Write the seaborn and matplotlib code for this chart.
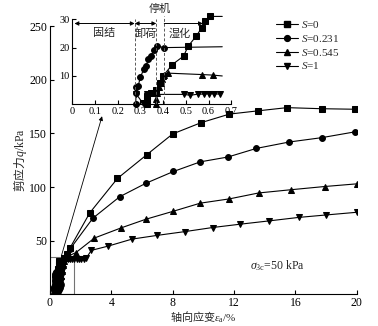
import numpy as np
import pandas as pd
import matplotlib
matplotlib.use("Agg")
import matplotlib.pyplot as plt
import matplotlib.patches as mpatches
from matplotlib.lines import Line2D
import seaborn as sns

# ---- data: axial strain (%) and deviator stress q (kPa) for each saturation level ----
s0_strain = [0.33, 0.33, 0.33, 0.345, 0.37, 0.385, 0.40, 0.44, 0.49, 0.51, 0.545, 0.57, 0.585, 0.605, 0.66,
             0.9, 1.1, 1.3, 2.6, 4.4, 6.3, 8.0, 9.85, 11.7, 13.55, 15.45, 17.7, 19.9]
s0_q = [0, 1.5, 3, 4, 5, 7.5, 10, 14, 17, 20.5, 24, 27, 29.5, 31, 31,
        34, 38, 43, 76, 108, 130, 149.5, 160, 168, 171, 174, 173, 172.5]

s1_strain = [0.28, 0.28, 0.28, 0.29, 0.30, 0.315, 0.325, 0.335, 0.345, 0.36, 0.375, 0.405, 0.66,
             0.75, 0.8, 0.85, 0.95, 1.1, 1.3, 2.8, 4.55, 6.25, 8.05, 9.8, 11.6, 13.45, 15.6, 17.7, 19.9]
s1_q = [0, 4, 6, 6.5, 9.5, 12.5, 13.5, 16, 17, 19, 20.5, 20, 20.3,
        22, 26, 30, 33, 37, 42, 71, 91, 103.5, 114.5, 123.5, 128, 136, 142, 146, 151.5]

s2_strain = [0.37, 0.37, 0.375, 0.38, 0.39, 0.395, 0.405, 0.42, 0.57, 0.62, 0.66,
             0.7, 0.75, 0.8, 0.85, 0.9, 1.05, 1.25, 1.7, 2.9, 4.65, 6.25, 8.05, 9.8, 11.7, 13.6, 15.7, 17.9, 20.0]
s2_q = [0, 2, 4, 6, 7.5, 9, 10.5, 11, 10.5, 10.3, 10,
        12, 17, 22, 27, 31, 34, 36, 39, 52.5, 62, 70, 77.5, 85, 89, 94.5, 97.5, 100.5, 103]

s3_strain = [0.28, 0.31, 0.33, 0.33, 0.37, 0.49, 0.52, 0.555, 0.58, 0.60, 0.625, 0.65,
             0.7, 0.75, 0.8, 0.85, 0.9, 1.0, 1.15, 1.3, 1.45, 1.6, 1.75, 1.9, 2.05, 2.2, 2.35,
             2.7, 3.8, 5.35, 7.0, 8.8, 10.6, 12.4, 14.3, 16.2, 18.0, 20.0]
s3_q = [3.8, 0.5, 0.5, 3.5, 3.5, 3.5, 3.2, 3.6, 3.6, 3.7, 3.7, 3.6,
        6, 12, 18, 24, 29, 32, 33, 33, 32.5, 32.5, 33, 32.5, 33, 33, 33.5,
        41, 45, 51.5, 55, 58.5, 62.3, 65.4, 68.5, 71.7, 74, 76.5]

series_names = ["0", "0.231", "0.545", "1"]
series_labels = ["$S$=0", "$S$=0.231", "$S$=0.545", "$S$=1"]
marker_shapes = ["s", "o", "^", "v"]

x_ticks = [0, 4, 8, 12, 16, 20]
y_ticks = [50, 100, 150, 200, 250]
inset_x_ticks = [0, 0.1, 0.2, 0.3, 0.4, 0.5, 0.6, 0.7]
inset_x_labels = ["0", "0.1", "0.2", "0.3", "0.4", "0.5", "0.6", "0.7"]
inset_y_ticks = [10, 20, 30]
stage_bounds = [0.275, 0.37, 0.405]

frames = []
for name, xs, ys in zip(series_names,
                        [s0_strain, s1_strain, s2_strain, s3_strain],
                        [s0_q, s1_q, s2_q, s3_q]):
    frames.append(pd.DataFrame({"strain": xs, "q": ys, "S": name}))
df = pd.concat(frames, ignore_index=True)

# ---- style ----
sns.set_theme(style="ticks")
plt.rcParams["font.family"] = ["Liberation Serif", "Noto Sans CJK SC"]
plt.rcParams["mathtext.fontset"] = "custom"
plt.rcParams["mathtext.rm"] = "Liberation Serif"
plt.rcParams["mathtext.it"] = "Liberation Serif:italic"
plt.rcParams["xtick.direction"] = "in"
plt.rcParams["ytick.direction"] = "in"

CJK = "Noto Sans CJK SC"
palette = {n: "black" for n in series_names}
markers = dict(zip(series_names, marker_shapes))

fig = plt.figure(figsize=(3.78, 3.26), dpi=100)
ax = fig.add_axes([0.132, 0.097, 0.812, 0.823])

sns.lineplot(data=df, x="strain", y="q", hue="S", style="S", hue_order=series_names,
             style_order=series_names, palette=palette, markers=markers, dashes=False,
             estimator=None, sort=False, markersize=4.2, linewidth=0.8, mec="black",
             legend=False, ax=ax)

ax.set_xlim(0, 20)
ax.set_ylim(0, 250)
ax.set_xticks(x_ticks)
ax.set_yticks(y_ticks)
ax.tick_params(labelsize=8.5, length=3, width=0.8, pad=2, colors="black")
for side in ["top", "right"]:
    ax.spines[side].set_visible(False)
for side in ["left", "bottom"]:
    ax.spines[side].set_linewidth(0.8)
    ax.spines[side].set_color("black")

ax.set_xlabel(r"轴向应变$\varepsilon_\mathrm{a}\mathrm{/\%}$", fontsize=8, family=CJK, labelpad=0)
ax.set_ylabel(r"剪应力$q\mathrm{/kPa}$", fontsize=8.5, family=CJK, labelpad=0)

# zoom box around the early stage and arrow pointing to the inset
ax.add_patch(mpatches.Rectangle((0, 0), 1.6, 35, fill=False, ec="0.45", lw=0.8, zorder=1))
ax.annotate("", xy=(3.4, 166), xytext=(0.75, 36),
            arrowprops=dict(arrowstyle="-|>", lw=0.6, color="black", mutation_scale=6,
                            shrinkA=0, shrinkB=0))

ax.text(14.8, 27, r"$\sigma_{3\mathrm{c}}$=50 kPa", fontsize=8.5, ha="center", va="center")

# legend
handles = [Line2D([], [], color="black", lw=0.8, marker=m, markersize=4.2, mec="black")
           for m in marker_shapes]
ax.legend(handles, series_labels, loc="upper left", bbox_to_anchor=(0.718, 0.955),
          bbox_transform=fig.transFigure, frameon=False, fontsize=8, handlelength=2.0,
          handletextpad=0.3, labelspacing=0.25, borderaxespad=0)

# ---- inset: early stage (consolidation, unloading, wetting) ----
ins = fig.add_axes([0.191, 0.680, 0.421, 0.274])
ins.set_facecolor("white")
sub = df[df["strain"] <= 0.66]
sns.lineplot(data=sub, x="strain", y="q", hue="S", hue_order=series_names, palette=palette,
             estimator=None, sort=False, linewidth=0.8, legend=False, ax=ins)
sns.lineplot(data=df[df["strain"] < 0.655], x="strain", y="q", hue="S", style="S",
             hue_order=series_names, style_order=series_names, palette=palette,
             markers=markers, dashes=False, estimator=None, sort=False, markersize=4.2,
             linewidth=0, mec="black", legend=False, ax=ins)
for ln in ins.lines:
    ln.set_clip_on(False)
ins.set_xlim(0, 0.7)
ins.set_ylim(0, 31.5)
ins.set_xticks(inset_x_ticks)
ins.set_xticklabels(inset_x_labels)
ins.set_yticks(inset_y_ticks)
ins.spines["left"].set_bounds(0, 30)
for side in ["top", "right"]:
    ins.spines[side].set_visible(False)
for side in ["left", "bottom"]:
    ins.spines[side].set_linewidth(0.8)
    ins.spines[side].set_color("black")
ins.tick_params(labelsize=7.5, length=3, width=0.8, pad=2, colors="black")
ins.set_xlabel("")
ins.set_ylabel("")

for xb, top in zip(stage_bounds, [30, 30, 31]):
    ins.plot([xb, xb], [0, top], ls=(0, (3, 2)), color="0.35", lw=0.7, clip_on=False)

arrow_kw = dict(lw=0.7, color="black", mutation_scale=6, shrinkA=0, shrinkB=0)
ins.annotate("", xy=(0.01, 28.5), xytext=(stage_bounds[0], 28.5),
             arrowprops=dict(arrowstyle="<|-|>", **arrow_kw))
ins.annotate("", xy=(stage_bounds[0], 28.5), xytext=(stage_bounds[1], 28.5),
             arrowprops=dict(arrowstyle="<|-|>", **arrow_kw))
ins.annotate("", xy=(0.575, 28.5), xytext=(stage_bounds[2], 28.5),
             arrowprops=dict(arrowstyle="-|>", **arrow_kw))
ins.text(0.14, 25, "固结", family=CJK, fontsize=8, ha="center", va="center")
ins.text(0.325, 25, "卸荷", family=CJK, fontsize=8, ha="center", va="center")
ins.text(0.475, 25, "湿化", family=CJK, fontsize=8, ha="center", va="center")
ins.text(0.385, 33.5, "停机", family=CJK, fontsize=8, ha="center", va="center", clip_on=False)

fig.savefig("out.png", dpi=100)
